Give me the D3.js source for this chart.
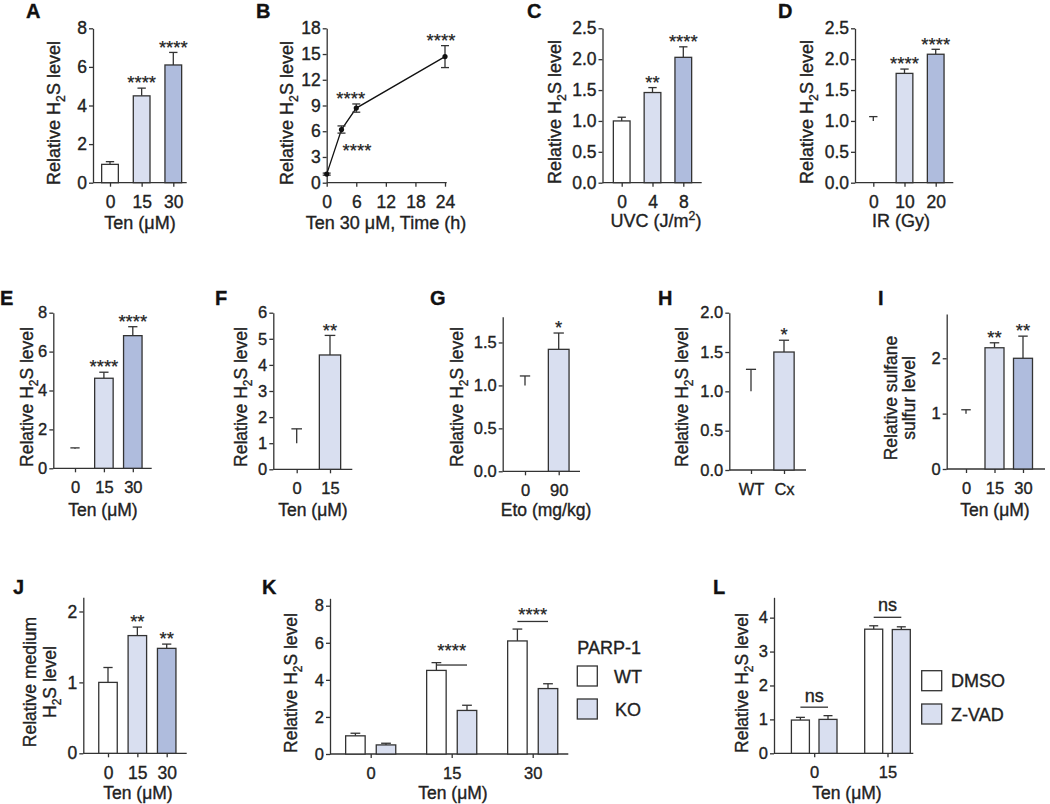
<!DOCTYPE html>
<html><head><meta charset="utf-8">
<script src="https://cdn.jsdelivr.net/npm/d3@7"></script>
<style>body{margin:0;background:#fff}svg{display:block}
svg text{stroke:#222;stroke-width:0.35px;paint-order:stroke}</style>
</head><body>
<script>
// ---------------- data ----------------
const doseA = ["0","15","30"];
const valA = [0.95, 4.5, 6.1];
const errA = [0.14, 0.4, 0.65];
const sigA = ["", "****", "****"];
const yTicksA = [0,2,4,6,8];

const timeB = [0,3,6,24];
const valB = [1.0, 6.2, 8.7, 14.7];
const errB = [0.12, 0.42, 0.48, 1.28];
const yTicksB = [0,3,6,9,12,15,18];
const xTicksB = [0,6,12,18,24];

const doseC = ["0","4","8"];
const valC = [1.0, 1.46, 2.03];
const errC = [0.06, 0.08, 0.17];
const sigC = ["", "**", "****"];
const yTicksC = [0,0.5,1,1.5,2,2.5];

const doseD = ["0","10","20"];
const valD = [1.0, 1.77, 2.08];
const errD = [0.07, 0.07, 0.08];
const sigD = ["", "****", "****"];
const yTicksD = [0,0.5,1,1.5,2,2.5];

const doseE = ["0","15","30"];
const valE = [1.0, 4.63, 6.82];
const errE = [0.05, 0.31, 0.46];
const sigE = ["", "****", "****"];
const yTicksE = [0,2,4,6,8];

const doseF = ["0","15"];
const valF = [1.0, 4.38];
const errF = [0.55, 0.75];
const sigF = ["", "**"];
const yTicksF = [0,1,2,3,4,5,6];

const doseG = ["0","90"];
const valG = [1.0, 1.42];
const errG = [0.11, 0.19];
const sigG = ["", "*"];
const yTicksG = [0,0.5,1,1.5];

const groupH = ["WT","Cx"];
const valH = [1.0, 1.5];
const errH = [0.28, 0.15];
const sigH = ["", "*"];
const yTicksH = [0,0.5,1,1.5,2];

const doseI = ["0","15","30"];
const valI = [1.0, 2.19, 2.0];
const errI = [0.07, 0.09, 0.4];
const sigI = ["", "**", "**"];
const yTicksI = [0,1,2];

const doseJ = ["0","15","30"];
const valJ = [1.0, 1.66, 1.48];
const errJ = [0.21, 0.12, 0.06];
const sigJ = ["", "**", "**"];
const yTicksJ = [0,1,2];

const doseK = ["0","15","30"];
const seriesK = ["WT","KO"];
const wtK = [0.98, 4.51, 6.1];
const wtErrK = [0.14, 0.42, 0.64];
const koK = [0.49, 2.35, 3.53];
const koErrK = [0.09, 0.28, 0.26];
const sigDoseK = ["15","30"];
const sigLineK = [4.8, 7.15];
const sigLabelK = [5.8, 7.75];
const sigTextK = ["****","****"];
const yTicksK = [0,2,4,6,8];

const doseL = ["0","15"];
const seriesL = ["DMSO","Z-VAD"];
const dmsoL = [0.98, 3.66];
const dmsoErrL = [0.08, 0.10];
const zvadL = [1.0, 3.65];
const zvadErrL = [0.11, 0.08];
const sigLineL = [1.36, 4.01];
const sigLabelL = [1.52, 4.21];
const sigTextL = ["ns","ns"];
const yTicksL = [0,1,2,3,4];

// ---------------- styles ----------------
const FONT = "'Liberation Sans', Arial, Helvetica, sans-serif";
const INK = "#333";
const TXT = "#222";
const C0 = "#ffffff", C1 = "#d9dff0", C2 = "#afbcdd";
const TF = 18;
const fmtInt = d3.format("d"), fmt1 = d3.format(".1f");

const svg = d3.select("body").append("svg")
  .attr("width",1050).attr("height",804)
  .style("font-family",FONT).style("background","#fff");

function styleAxis(ax, fs){
  ax.attr("font-family",FONT).attr("font-size",fs);
  ax.selectAll("path,line").attr("stroke",INK).attr("stroke-width",1.3);
  ax.selectAll("text").attr("fill",TXT);
}
function drawAxes(g, x, y, o){
  const ya = g.append("g").attr("transform",`translate(${o.x0},0)`)
    .call(d3.axisLeft(y).tickValues(o.yticks).tickFormat(o.fmt||fmtInt)
      .tickSize(4).tickPadding(2).tickSizeOuter(0));
  styleAxis(ya, o.fs);
  g.append("line").attr("x1",o.x0).attr("x2",o.xEnd).attr("y1",o.yBot).attr("y2",o.yBot)
    .attr("stroke",INK).attr("stroke-width",1.3);
  const xa = g.append("g").attr("transform",`translate(0,${o.yBot})`)
    .call((o.xaxis||d3.axisBottom(x)).tickSize(4).tickPadding(9));
  xa.select(".domain").remove();
  styleAxis(xa, o.fs);
}
function errBar(g, cx, y0, y1, hw){
  g.append("line").attr("x1",cx).attr("x2",cx).attr("y1",y0).attr("y2",y1)
    .attr("stroke",INK).attr("stroke-width",1.3);
  g.append("line").attr("x1",cx-hw).attr("x2",cx+hw).attr("y1",y1).attr("y2",y1)
    .attr("stroke",INK).attr("stroke-width",1.3);
}
function stars(g, cx, yc, t, fs){
  fs = fs||18.5;
  g.append("text").attr("x",cx).attr("y",yc+fs*0.58).attr("text-anchor","middle")
    .attr("font-size",fs).attr("fill",TXT).style("stroke-width","0.2px").text(t);
}
function richText(t, segs, fs){
  let shift = 0;
  segs.forEach(s=>{
    const sp = t.append("tspan").text(s[0]);
    let target = 0;
    if(s[1]==="sub"){ sp.attr("font-size",fs*0.68); target = fs*0.28; }
    else if(s[1]==="sup"){ sp.attr("font-size",fs*0.68); target = -fs*0.4; }
    if(target!==shift){ sp.attr("dy", target-shift); shift = target; }
  });
}
function yTitle(g, xs, yc, lines, fs){
  lines.forEach((segs,i)=>{
    const t = g.append("text").attr("transform",`translate(${xs[i]},${yc}) rotate(-90)`)
      .attr("text-anchor","middle").attr("font-size",fs).attr("fill",TXT);
    richText(t, segs, fs);
  });
}
function xTitle(g, xc, yb, segs, fs){
  const t = g.append("text").attr("x",xc).attr("y",yb).attr("text-anchor","middle")
    .attr("font-size",fs).attr("fill",TXT);
  richText(t, segs, fs);
}
function letter(x, y, t){
  svg.append("text").attr("x",x).attr("y",y).attr("font-size",20).attr("font-weight","bold")
    .attr("fill","#111").text(t);
}
const H2S = [["Relative H"],["2","sub"],["S level"]];
const TEN = [["Ten (μM)"]];

function barPanel(o){
  const g = svg.append("g");
  const y = d3.scaleLinear().domain([0,o.ymax]).range([o.yBot,o.yTop]);
  const x = d3.scalePoint().domain(o.cats).range(o.centers);
  drawAxes(g, x, y, o);
  o.vals.forEach((v,i)=>{
    const cx = x(o.cats[i]);
    const top = y(v+o.errs[i]);
    errBar(g, cx, y(v), top, o.barW*0.25);
    if(!(o.hideFirst && i===0)){
      g.append("rect").attr("x",cx-o.barW/2).attr("y",y(v))
        .attr("width",o.barW).attr("height",o.yBot-y(v))
        .attr("fill",o.fills[i]).attr("stroke",INK).attr("stroke-width",1.3);
    }
    if(o.sig[i]) stars(g, cx, top-9.5, o.sig[i]);
  });
  return {g,x,y};
}

// ---------------- Row 1 ----------------
let p;
p = barPanel({x0:93,xEnd:186.7,yTop:28.3,yBot:182.7,ymax:8,yticks:yTicksA,cats:doseA,
  centers:[110,173.3],barW:16.7,vals:valA,errs:errA,fills:[C0,C1,C2],sig:sigA,fs:17.5});
yTitle(p.g,[60],113,[H2S],TF); xTitle(p.g,140,229,TEN,TF); letter(26,18,"A");

(function(){
  const g = svg.append("g");
  const y = d3.scaleLinear().domain([0,18]).range([182.7,28.3]);
  const x = d3.scaleLinear().domain([0,24]).range([326.7,445]);
  drawAxes(g, x, y, {x0:326.7,xEnd:446.7,yBot:182.7,yticks:yTicksB,fs:17.5,
    xaxis:d3.axisBottom(x).tickValues(xTicksB)});
  const pts = timeB.map((t,i)=>({t, v:valB[i], e:errB[i]}));
  g.append("path").datum(pts).attr("fill","none").attr("stroke","#111").attr("stroke-width",1.3)
    .attr("d", d3.line().x(d=>x(d.t)).y(d=>y(d.v)));
  pts.forEach(d=>{
    const cx = x(d.t);
    errBar(g, cx, y(d.v), y(d.v+d.e), 4);
    errBar(g, cx, y(d.v), y(d.v-d.e), 4);
  });
  g.selectAll("circle").data(pts).join("circle").attr("cx",d=>x(d.t)).attr("cy",d=>y(d.v))
    .attr("r",2.6).attr("fill","#111");
  stars(g, x(24)-4, y(valB[3]+errB[3])-9.5, "****");
  stars(g, x(6)-5.5, y(valB[2]+errB[2])-9.5, "****");
  stars(g, x(3)+15.5, y(valB[1]-errB[1])+13, "****");
  yTitle(g,[293],113,[H2S],TF);
  xTitle(g,386,229,[["Ten 30 μM, Time (h)"]],TF);
  letter(256,18,"B");
})();

p = barPanel({x0:602.5,xEnd:701.7,yTop:28.3,yBot:182.7,ymax:2.5,yticks:yTicksC,fmt:fmt1,cats:doseC,
  centers:[621.7,683.3],barW:16.7,vals:valC,errs:errC,fills:[C0,C1,C2],sig:sigC,fs:17.5});
yTitle(p.g,[561],112,[H2S],TF); xTitle(p.g,656,227,[["UVC (J/m"],["2","sup"],[")"]],TF); letter(527,18,"C");

p = barPanel({x0:855,xEnd:953.3,yTop:28.3,yBot:182.7,ymax:2.5,yticks:yTicksD,fmt:fmt1,cats:doseD,
  centers:[873.3,935.7],barW:16.7,vals:valD,errs:errD,fills:[C0,C1,C2],sig:sigD,fs:17.5,hideFirst:true});
yTitle(p.g,[813],112,[H2S],TF); xTitle(p.g,901,227,[["IR (Gy)"]],TF); letter(778,18,"D");

// ---------------- Row 2 ----------------
p = barPanel({x0:53.3,xEnd:151.7,yTop:312.7,yBot:468.3,ymax:8,yticks:yTicksE,cats:doseE,
  centers:[75,132.8],barW:18.5,vals:valE,errs:errE,fills:[C0,C1,C2],sig:sigE,fs:16.5,hideFirst:true});
yTitle(p.g,[33],397,[H2S],17.5); xTitle(p.g,103,516,TEN,17.5); letter(0,305,"E");

p = barPanel({x0:273.3,xEnd:352.3,yTop:312.7,yBot:469.3,ymax:6,yticks:yTicksF,cats:doseF,
  centers:[296.7,330],barW:21.3,vals:valF,errs:errF,fills:[C0,C1],sig:sigF,fs:16.5,hideFirst:true});
yTitle(p.g,[247],397,[H2S],17.5); xTitle(p.g,313,516,TEN,17.5); letter(215,305,"F");

p = barPanel({x0:502.7,xEnd:580,yTop:316.7,yBot:471.3,ymax:1.8,yticks:yTicksG,fmt:fmt1,cats:doseG,
  centers:[525,558.7],barW:20.7,vals:valG,errs:errG,fills:[C0,C1],sig:sigG,fs:16.5,hideFirst:true});
yTitle(p.g,[463],397,[H2S],17.5); xTitle(p.g,546,516,[["Eto (mg/kg)"]],17.5); letter(430,305,"G");

p = barPanel({x0:729.3,xEnd:806,yTop:312.7,yBot:470,ymax:2,yticks:yTicksH,fmt:fmt1,cats:groupH,
  centers:[751,784],barW:20.3,vals:valH,errs:errH,fills:[C0,C1],sig:sigH,fs:16.5,hideFirst:true});
yTitle(p.g,[688],397,[H2S],17.5); letter(658,305,"H");

p = barPanel({x0:946.7,xEnd:1045,yTop:314,yBot:469,ymax:2.8,yticks:yTicksI,cats:doseI,
  centers:[966,1023],barW:19,vals:valI,errs:errI,fills:[C0,C1,C2],sig:sigI,fs:16.5,hideFirst:true});
yTitle(p.g,[897,915],398,[[["Relative sulfane"]],[["sulfur level"]]],17.5);
xTitle(p.g,995,516,TEN,17.5); letter(878,305,"I");

// ---------------- Row 3 ----------------
p = barPanel({x0:83.3,xEnd:186.7,yTop:597.3,yBot:753.3,ymax:2.2,yticks:yTicksJ,cats:doseJ,
  centers:[108,166.7],barW:18.5,vals:valJ,errs:errJ,fills:[C0,C1,C2],sig:sigJ,fs:17.5});
yTitle(p.g,[36,56],682,[[["Relative medium"]],[["H"],["2","sub"],["S level"]]],17.5);
xTitle(p.g,138,799,TEN,17.5); letter(13,594,"J");

function groupedPanel(o){
  const g = svg.append("g");
  const y = d3.scaleLinear().domain([0,o.ymax]).range([o.yBot,o.yTop]);
  const x = d3.scalePoint().domain(o.cats).range(o.centers);
  const x1 = d3.scalePoint().domain(o.series).range([-o.off,o.off]);
  drawAxes(g, x, y, o);
  o.series.forEach((s,si)=>{
    o.cats.forEach((c,i)=>{
      const v = o.vals[si][i], e = o.errs[si][i];
      const cx = x(c)+x1(s);
      errBar(g, cx, y(v), y(v+e), o.barW*0.25);
      g.append("rect").attr("x",cx-o.barW/2).attr("y",y(v)).attr("width",o.barW)
        .attr("height",o.yBot-y(v)).attr("fill",o.fills[si]).attr("stroke",INK).attr("stroke-width",1.3);
    });
  });
  o.sigDose.forEach((d,i)=>{
    const l = x(d)+x1(o.series[0]), r = x(d)+x1(o.series[1]);
    g.append("line").attr("x1",l).attr("x2",r).attr("y1",y(o.sigLine[i])).attr("y2",y(o.sigLine[i]))
      .attr("stroke",INK).attr("stroke-width",1.3);
    if(o.sigText[i]==="ns"){
      g.append("text").attr("x",(l+r)/2).attr("y",y(o.sigLabel[i])).attr("text-anchor","middle")
        .attr("font-size",18).attr("fill",TXT).text(o.sigText[i]);
    } else stars(g,(l+r)/2,y(o.sigLabel[i]),o.sigText[i]);
  });
  const lg = g.append("g");
  if(o.legendTitle) lg.append("text").attr("x",o.lx).attr("y",o.ltY).attr("font-size",18)
    .attr("fill",TXT).text(o.legendTitle);
  o.series.forEach((s,si)=>{
    const by = o.ly[si];
    lg.append("rect").attr("x",o.lx).attr("y",by).attr("width",20).attr("height",20)
      .attr("fill",o.fills[si]).attr("stroke",INK).attr("stroke-width",1.3);
    lg.append("text").attr("x",o.ltx[si]).attr("y",by+16.5).attr("font-size",18).attr("fill",TXT).text(s);
  });
  return {g,x,y};
}

p = groupedPanel({x0:330,xEnd:568.3,yTop:598.3,yBot:754,ymax:8.4,yticks:yTicksK,cats:doseK,
  centers:[370.7,532.7],series:seriesK,off:15.3,barW:19.5,vals:[wtK,koK],errs:[wtErrK,koErrK],
  fills:[C0,C1],fs:16.5,sigDose:sigDoseK,sigLine:sigLineK,sigLabel:sigLabelK,sigText:sigTextK,
  legendTitle:"PARP-1",lx:577.3,ltY:654,ly:[666,699],ltx:[614,615]});
yTitle(p.g,[297],683,[H2S],17.5); xTitle(p.g,453,799,TEN,17.5); letter(262,594,"K");

p = groupedPanel({x0:774,xEnd:913.3,yTop:597.3,yBot:753.3,ymax:4.6,yticks:yTicksL,cats:doseL,
  centers:[814.2,887.5],series:seriesL,off:13.8,barW:18,vals:[dmsoL,zvadL],errs:[dmsoErrL,zvadErrL],
  fills:[C0,C1],fs:16.5,sigDose:doseL,sigLine:sigLineL,sigLabel:sigLabelL,sigText:sigTextL,
  lx:921.7,ly:[670.7,704],ltx:[951,951]});
yTitle(p.g,[748],683,[H2S],17.5); xTitle(p.g,847,799,TEN,17.5); letter(713,594,"L");
</script>
</body></html>
